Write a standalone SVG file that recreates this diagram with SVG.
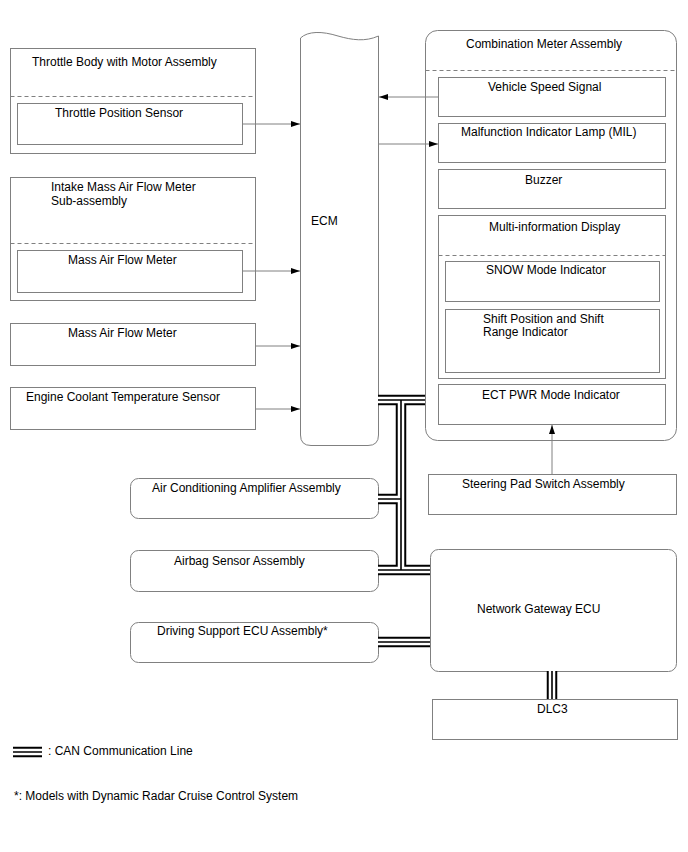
<svg xmlns="http://www.w3.org/2000/svg" xmlns:xlink="http://www.w3.org/1999/xlink" width="688" height="852" viewBox="0 0 688 852">
<style>
.bx{fill:#fff;stroke:#808080;stroke-width:1}
.ds{fill:none;stroke:#808080;stroke-width:1;stroke-dasharray:4,3}
.t{font-family:"Liberation Sans",Arial,sans-serif;font-size:12px;fill:#000}
.ar{fill:none;stroke:#808080;stroke-width:1;marker-end:url(#ah)}
.c1{fill:none;stroke:#000;stroke-width:10.5}
.c2{fill:none;stroke:#fff;stroke-width:6.5}
.c3{fill:none;stroke:#000;stroke-width:1.6}
</style>
<defs>
<marker id="ah" markerWidth="9" markerHeight="7" refX="9" refY="3.5" orient="auto" markerUnits="userSpaceOnUse">
<path d="M0,0.5 L9,3.5 L0,6.5 Z" fill="#000"/>
</marker>
<path id="can" d="M378,400 H425 M401,400 V570 M378,499 H401 M378,570 H430 M378,642 H430 M552,671 V699 M13,752 H42"/>
</defs>
<rect width="688" height="852" fill="#fff"/>

<g id="throttle-body">
<rect class="bx" x="10.5" y="48.5" width="245" height="105"/>
<text class="t" x="32" y="65.5">Throttle Body with Motor Assembly</text>
<line class="ds" x1="10.5" y1="96.5" x2="255.5" y2="96.5"/>
</g>
<g id="throttle-position-sensor">
<rect class="bx" x="17.5" y="103.5" width="225" height="41"/>
<text class="t" x="55" y="117">Throttle Position Sensor</text>
</g>

<g id="intake-maf">
<rect class="bx" x="10.5" y="177.5" width="245" height="123"/>
<text class="t" x="51" y="190.5">Intake Mass Air Flow Meter</text>
<text class="t" x="51" y="205">Sub-assembly</text>
<line class="ds" x1="10.5" y1="243.5" x2="255.5" y2="243.5"/>
</g>
<g id="maf-inner">
<rect class="bx" x="17.5" y="250.5" width="225" height="42"/>
<text class="t" x="68" y="264">Mass Air Flow Meter</text>
</g>

<g id="maf">
<rect class="bx" x="10.5" y="323.5" width="245" height="42"/>
<text class="t" x="68" y="337">Mass Air Flow Meter</text>
</g>

<g id="ect-sensor">
<rect class="bx" x="10.5" y="387.5" width="245" height="42"/>
<text class="t" x="26" y="401">Engine Coolant Temperature Sensor</text>
</g>

<g id="ecm">
<path class="bx" d="M300.5,38 C308,31 322,31 338,36 C352,40 365,42 378.5,36 V435 Q378.5,445.5 368,445.5 H311 Q300.5,445.5 300.5,435 Z"/>
<text class="t" x="311" y="225">ECM</text>
</g>

<g id="combination-meter">
<rect class="bx" x="425.5" y="30.5" width="251" height="410" rx="12"/>
<text class="t" x="466" y="47.5">Combination Meter Assembly</text>
<line class="ds" x1="425.5" y1="70.5" x2="676.5" y2="70.5"/>
</g>
<g id="vehicle-speed-signal">
<rect class="bx" x="438.5" y="77.5" width="227" height="39"/>
<text class="t" x="488" y="91">Vehicle Speed Signal</text>
</g>
<g id="mil">
<rect class="bx" x="438.5" y="123.5" width="227" height="39"/>
<text class="t" x="461" y="135.5">Malfunction Indicator Lamp (MIL)</text>
</g>
<g id="buzzer">
<rect class="bx" x="438.5" y="169.5" width="227" height="39"/>
<text class="t" x="525" y="183.5">Buzzer</text>
</g>
<g id="multi-info-display">
<rect class="bx" x="438.5" y="215.5" width="227" height="163"/>
<text class="t" x="489" y="231">Multi-information Display</text>
<line class="ds" x1="438.5" y1="255.5" x2="665.5" y2="255.5"/>
</g>
<g id="snow-mode">
<rect class="bx" x="445.5" y="261.5" width="214" height="40"/>
<text class="t" x="486" y="274">SNOW Mode Indicator</text>
</g>
<g id="shift-indicator">
<rect class="bx" x="445.5" y="309.5" width="214" height="63"/>
<text class="t" x="483" y="322.5">Shift Position and Shift</text>
<text class="t" x="483" y="336">Range Indicator</text>
</g>
<g id="ect-pwr">
<rect class="bx" x="438.5" y="384.5" width="227" height="40"/>
<text class="t" x="482" y="399">ECT PWR Mode Indicator</text>
</g>

<g id="steering-pad">
<rect class="bx" x="428.5" y="474.5" width="248" height="40"/>
<text class="t" x="462" y="488">Steering Pad Switch Assembly</text>
</g>

<g id="ac-amplifier">
<rect class="bx" x="130.5" y="478.5" width="248" height="40" rx="8"/>
<text class="t" x="152" y="491.5">Air Conditioning Amplifier Assembly</text>
</g>
<g id="airbag">
<rect class="bx" x="130.5" y="550.5" width="248" height="41" rx="8"/>
<text class="t" x="174" y="564.5">Airbag Sensor Assembly</text>
</g>
<g id="driving-support">
<rect class="bx" x="130.5" y="622.5" width="248" height="40" rx="8"/>
<text class="t" x="157" y="635">Driving Support ECU Assembly*</text>
</g>
<g id="network-gateway">
<rect class="bx" x="430.5" y="549.5" width="246" height="122" rx="8"/>
<text class="t" x="477" y="612.5">Network Gateway ECU</text>
</g>
<g id="dlc3">
<rect class="bx" x="432.5" y="699.5" width="245" height="40"/>
<text class="t" x="537" y="713">DLC3</text>
</g>

<g id="connectors">
<line class="ar" x1="242.5" y1="124" x2="300" y2="124"/>
<line class="ar" x1="242.5" y1="271" x2="300" y2="271"/>
<line class="ar" x1="255.5" y1="346" x2="300" y2="346"/>
<line class="ar" x1="255.5" y1="409" x2="300" y2="409"/>
<line class="ar" x1="438.5" y1="97" x2="379" y2="97"/>
<line class="ar" x1="378.5" y1="144" x2="438" y2="144"/>
<line class="ar" x1="552" y1="474.5" x2="552" y2="425"/>
<use xlink:href="#can" class="c1"/>
<use xlink:href="#can" class="c2"/>
<use xlink:href="#can" class="c3"/>
</g>

<g id="legend">
<text class="t" x="48" y="755">: CAN Communication Line</text>
<text class="t" x="14" y="799.5">*: Models with Dynamic Radar Cruise Control System</text>
</g>
</svg>
